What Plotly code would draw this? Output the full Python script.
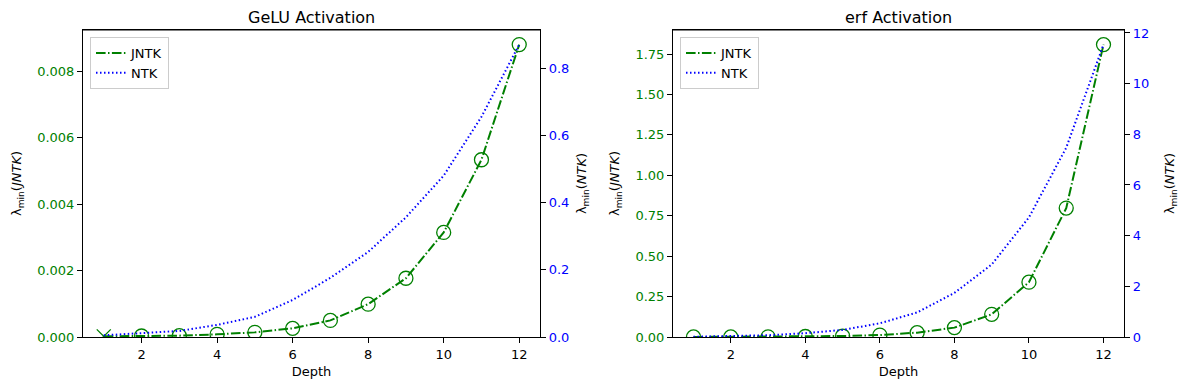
import plotly.graph_objects as go

depth = list(range(1, 13))

# GeLU panel
gelu_jntk = [0.00002, 0.00003, 0.00004, 0.00008, 0.00014, 0.00026,
             0.00050, 0.00099, 0.00177, 0.00315, 0.00534, 0.00881]
gelu_ntk = [0.005, 0.011, 0.018, 0.036, 0.060, 0.110,
            0.176, 0.253, 0.356, 0.480, 0.655, 0.870]
gelu_symbols = ["x-thin-open"] + ["circle-open"] * 11

# erf panel
erf_jntk = [0.0002, 0.0005, 0.001, 0.003, 0.006, 0.012,
            0.027, 0.058, 0.140, 0.339, 0.797, 1.808]
erf_ntk = [0.01, 0.03, 0.07, 0.15, 0.28, 0.54,
           0.97, 1.74, 2.86, 4.72, 7.47, 11.54]
erf_symbols = ["circle-open"] * 12

titles = ["GeLU Activation", "erf Activation"]
xticks = [2, 4, 6, 8, 10, 12]

GREEN = "green"
BLUE = "blue"
FONT = "DejaVu Sans"
# page body has an 8px margin, so the figure is shrunk and everything moved by it
OFF = 8
W, H = 1189 - 2 * OFF, 390 - 2 * OFF


def px_x(p):
    return (p - OFF) / W


def px_y(p):
    return 1 - (p - OFF) / H


def top(vals):
    return max(vals) + 0.05 * (max(vals) - min(vals))


fig = go.Figure()

panels = [
    (gelu_jntk, gelu_ntk, gelu_symbols, "x", "y", "y2", "legend"),
    (erf_jntk, erf_ntk, erf_symbols, "x2", "y3", "y4", "legend2"),
]
for jntk, ntk, syms, xa, ya, yb, lg in panels:
    fig.add_trace(go.Scatter(
        x=depth, y=jntk, mode="lines", name="JNTK", xaxis=xa, yaxis=ya, legend=lg,
        line=dict(color=GREEN, width=2, dash="9.6px,2.4px,1.5px,2.4px")))
    fig.add_trace(go.Scatter(
        x=depth, y=jntk, mode="markers", showlegend=False, xaxis=xa, yaxis=ya,
        marker=dict(symbol=syms, size=14, color=GREEN, line=dict(color=GREEN, width=1.3))))
    fig.add_trace(go.Scatter(
        x=depth, y=ntk, mode="lines", name="NTK", xaxis=xa, yaxis=yb, legend=lg,
        line=dict(color=BLUE, width=2, dash="1.5px,2.5px")))

ydom = [px_y(337), px_y(30)]
xdoms = [[px_x(83), px_x(540)], [px_x(673), px_x(1124)]]

axis_common = dict(showgrid=False, zeroline=False, showline=True, linecolor="black",
                   linewidth=1.1, ticks="outside", ticklen=5, tickwidth=1.1,
                   tickcolor="black", tickfont=dict(size=13, family=FONT),
                   automargin=False)

lay = dict(
    width=W, height=H, margin=dict(l=0, r=0, t=0, b=0),
    plot_bgcolor="white", paper_bgcolor="white",
    font=dict(family=FONT, size=13, color="black"),
)
shapes = []
right_standoff = [8, 16]
for i, (xa, ya, yb) in enumerate([("xaxis", "yaxis", "yaxis2"), ("xaxis2", "yaxis3", "yaxis4")]):
    jntk, ntk = panels[i][0], panels[i][1]
    yname = "y" if ya == "yaxis" else ya.replace("yaxis", "y")
    xname = "x" if xa == "xaxis" else "x2"
    lay[xa] = dict(axis_common, domain=xdoms[i], range=[0.45, 12.55], tickvals=xticks,
                   anchor=yname, mirror=True,
                   title=dict(text="Depth", font=dict(size=13), standoff=6))
    lay[ya] = dict(axis_common, domain=ydom, range=[0, top(jntk)], anchor=xname,
                   tickfont=dict(size=13, family=FONT, color=GREEN),
                   title=dict(text="λ<sub>min</sub>(<i>JNTK</i>)", font=dict(size=13), standoff=12))
    lay[yb] = dict(axis_common, range=[0, top(ntk)], overlaying=yname, side="right",
                   anchor=xname,
                   tickfont=dict(size=13, family=FONT, color=BLUE),
                   title=dict(text="λ<sub>min</sub>(<i>NTK</i>)", font=dict(size=13),
                              standoff=right_standoff[i]))
    # top edge of the frame, as a bare axis on top
    lay["xaxis%d" % (i + 3)] = dict(domain=xdoms[i], range=[0.45, 12.55], anchor=yname,
                                    overlaying=xname, side="top", showline=True,
                                    linecolor="black", linewidth=1.1, showticklabels=False,
                                    ticks="", showgrid=False, zeroline=False,
                                    automargin=False)
    shapes.append(dict(type="line", xref="paper", yref="paper",
                       x0=xdoms[i][0], x1=xdoms[i][1], y0=ydom[1], y1=ydom[1],
                       line=dict(color="black", width=1.1)))

lay["yaxis"].update(tickformat=".3f", dtick=0.002)
lay["yaxis2"].update(tickformat=".1f", dtick=0.2)
lay["yaxis3"].update(tickformat=".2f", dtick=0.25)
lay["yaxis4"].update(tickformat="d", dtick=2)

# dummy traces so the top axes are drawn
for i, (xname, yname) in enumerate([("x3", "y"), ("x4", "y3")]):
    fig.add_trace(go.Scatter(x=[], y=[], xaxis=xname, yaxis=yname, showlegend=False,
                             hoverinfo="skip"))

legend_style = dict(bgcolor="rgba(255,255,255,0.8)", bordercolor="#cccccc", borderwidth=1,
                    font=dict(size=13, family=FONT), xanchor="left", yanchor="top",
                    tracegroupgap=0, itemwidth=30)
lay["legend"] = dict(legend_style, x=px_x(90), y=px_y(37))
lay["legend2"] = dict(legend_style, x=px_x(680), y=px_y(37))

annotations = []
for i, t in enumerate(titles):
    annotations.append(dict(text=t, xref="paper", yref="paper", x=sum(xdoms[i]) / 2,
                            y=px_y(29), xanchor="center", yanchor="bottom",
                            showarrow=False, font=dict(size=16, family=FONT)))
lay["annotations"] = annotations
lay["shapes"] = shapes

fig.update_layout(**lay)
fig.write_html("out.html")
